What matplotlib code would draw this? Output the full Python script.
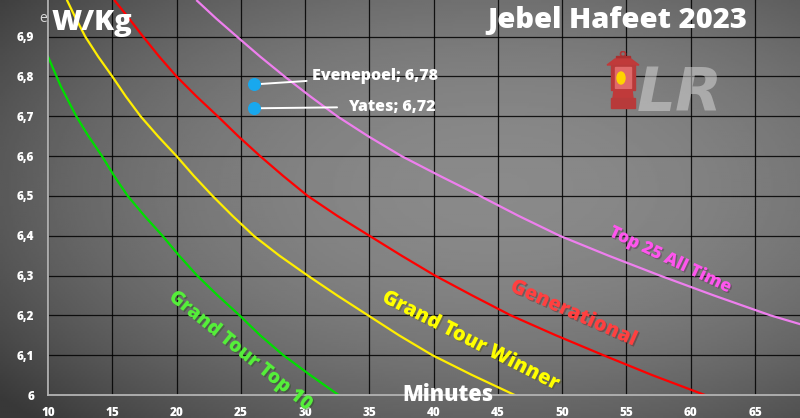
import numpy as np
import matplotlib
matplotlib.use("Agg")
import matplotlib.pyplot as plt
import matplotlib.patches as mpatches
import matplotlib.patheffects as pe
from matplotlib.ticker import FuncFormatter

# curves (minutes, W/kg)
green_x = [10, 11.0, 12.2, 13.15, 14.2, 15.15, 16.2, 17.5, 18.9, 20.2, 21.6, 23.2,
           24.9, 26.5, 28.3, 30.4, 32.6]
green_y = [6.85, 6.775, 6.7, 6.65, 6.6, 6.55, 6.5, 6.45, 6.4, 6.35, 6.3, 6.25,
           6.2, 6.15, 6.1, 6.05, 6.0]
yellow_x = [11.5, 12.1, 12.9, 13.9, 15.0, 16.05, 17.2, 18.55, 20.0, 21.35, 22.8,
            24.35, 26.0, 28.0, 30.2, 32.5, 34.9, 37.3, 39.9, 43.0, 46.3]
yellow_y = [6.99, 6.95, 6.9, 6.85, 6.8, 6.75, 6.7, 6.65, 6.6, 6.55, 6.5,
            6.45, 6.4, 6.35, 6.3, 6.25, 6.2, 6.15, 6.1, 6.05, 6.0]
red_x = [15.2, 16.2, 17.4, 18.65, 20.0, 21.55, 23.2, 24.8, 26.5, 28.3, 30.2,
         32.5, 35.0, 37.5, 40.1, 43.0, 46.0, 49.5, 53.2, 57.0, 61.1]
red_y = [6.99, 6.95, 6.9, 6.85, 6.8, 6.75, 6.7, 6.65, 6.6, 6.55, 6.5,
         6.45, 6.4, 6.35, 6.3, 6.25, 6.2, 6.15, 6.1, 6.05, 6.0]
pink_x = [21.6, 23.1, 24.7, 26.5, 28.4, 30.4, 32.5, 34.9, 37.5, 40.5, 43.6,
          46.6, 49.8, 53.6, 57.6, 61.8, 66.2, 68.5]
pink_y = [6.99, 6.945, 6.9, 6.85, 6.8, 6.75, 6.7, 6.65, 6.6, 6.55, 6.5,
          6.45, 6.4, 6.35, 6.3, 6.25, 6.2, 6.178]

riders = ["Evenepoel", "Yates"]
rider_min = [26, 26]
rider_wkg = [6.78, 6.72]

xticks = [10, 15, 20, 25, 30, 35, 40, 45, 50, 55, 60, 65]
yticks = [6.0, 6.1, 6.2, 6.3, 6.4, 6.5, 6.6, 6.7, 6.8, 6.9]

BOLD = dict(family="Open Sans", weight="heavy")

fig = plt.figure(figsize=(8, 4.18), dpi=100)

# concrete-ish background: plain vignette
bg = fig.add_axes([0, 0, 1, 1], zorder=-10)
yy, xx = np.mgrid[0:1:200j, 0:1:400j]
r2 = ((xx - 0.62) / 0.75) ** 2 + ((yy - 0.45) / 0.75) ** 2
val = np.clip(0.54 - 0.28 * r2, 0.22, 0.56)
bg.imshow(val, cmap="gray", vmin=0, vmax=1, aspect="auto", extent=[0, 1, 0, 1])
bg.axis("off")

ax = fig.add_axes([48 / 800, 23 / 418, 752 / 800, 395 / 418])
ax.patch.set_alpha(0)
ax.set_xlim(10, 68.5)
ax.set_ylim(6.0, 6.992)
ax.set_xticks(xticks)
ax.set_yticks(yticks)
ax.grid(True, color="black", lw=0.9, alpha=0.85)
ax.set_axisbelow(True)
for s in ["top", "right"]:
    ax.spines[s].set_visible(False)
for s in ["left", "bottom"]:
    ax.spines[s].set_color("#b4b4b4")
    ax.spines[s].set_linewidth(1.3)
ax.tick_params(length=0, colors="white", labelsize=8.5)
ax.tick_params(axis="y", pad=10)
ax.tick_params(axis="x", pad=9)
ax.yaxis.set_major_formatter(FuncFormatter(
    lambda v, p: "6" if abs(v - 6) < 1e-6 else ("%.1f" % v).replace(".", ",")))
for lab in ax.get_xticklabels() + ax.get_yticklabels():
    lab.set_fontweight("heavy")
    lab.set_family("Open Sans")

ax.plot(green_x, green_y, color="#00dd00", lw=1.6)
ax.plot(yellow_x, yellow_y, color="#ffee00", lw=1.6)
ax.plot(red_x, red_y, color="#ff0000", lw=1.6)
ax.plot(pink_x, pink_y, color="#ee7fee", lw=1.6)

shadow = [pe.withSimplePatchShadow(offset=(1, -1), alpha=0.35)]
ax.text(25.0, 6.11, "Grand Tour Top 10", color="#55ee3a", fontsize=14, rotation=-39,
        ha="center", va="center", path_effects=shadow, **BOLD)
ax.text(42.9, 6.135, "Grand Tour Winner", color="#ffff00", fontsize=14.5, rotation=-27,
        ha="center", va="center", path_effects=shadow, **BOLD)
ax.text(50.9, 6.204, "Generational", color="#ff4040", fontsize=14.5, rotation=-24,
        ha="center", va="center", path_effects=shadow, **BOLD)
ax.text(58.4, 6.339, "Top 25 All Time", color="#ff55ee", fontsize=12.5, rotation=-25.5,
        ha="center", va="center", path_effects=shadow, **BOLD)

ax.scatter(rider_min, rider_wkg, s=70, color="#18a8ee", zorder=5)
ax.annotate("%s; %s" % (riders[0], ("%.2f" % rider_wkg[0]).replace(".", ",")),
            xy=(rider_min[0], rider_wkg[0]), xytext=(30.55, 6.80),
            color="white", fontsize=11.5, ha="left", va="center",
            arrowprops=dict(arrowstyle="-", color="white", lw=1.4, shrinkA=2, shrinkB=0),
            **BOLD)
ax.annotate("%s; %s" % (riders[1], ("%.2f" % rider_wkg[1]).replace(".", ",")),
            xy=(rider_min[1], rider_wkg[1]), xytext=(33.35, 6.724),
            color="white", fontsize=11.5, ha="left", va="center",
            arrowprops=dict(arrowstyle="-", color="white", lw=1.4, shrinkA=6, shrinkB=0),
            **BOLD)

# titles
fig.text(52 / 800, 1 - 30 / 418, "W/Kg", color="white", fontsize=21, ha="left",
         va="baseline", **BOLD)
fig.text(39 / 800, 1 - 22 / 418, "e", color="#d8d8d8", fontsize=10, ha="left",
         va="baseline", family="Open Sans")
fig.text(617 / 800, 1 - 28 / 418, "Jebel Hafeet 2023", color="white", fontsize=21,
         ha="center", va="baseline", **BOLD)
fig.text(448 / 800, 1 - 401 / 418, "Minutes", color="white", fontsize=15.5,
         ha="center", va="baseline", **BOLD)

# logo: lantern + LR
lg = fig.add_axes([604 / 800, 1 - 113 / 418, 38 / 800, 62 / 418])
lg.set_xlim(0, 38)
lg.set_ylim(62, 0)
lg.axis("off")
lg.add_patch(mpatches.Circle((19, 3), 2.5, fill=False, ec="#b03535", lw=1.2))
lg.add_patch(mpatches.Rectangle((12, 5), 14, 3, color="#a83030"))
lg.add_patch(mpatches.Polygon([(3, 14), (35, 14), (27, 8), (11, 8)], color="#c03a3a"))
lg.add_patch(mpatches.Rectangle((7, 14), 24, 25, color="#b83a3a"))
lg.add_patch(mpatches.Rectangle((11, 16), 16, 21, color="#e06a6a"))
lg.add_patch(mpatches.Ellipse((17, 27), 8, 12, color="#ffd400"))
lg.add_patch(mpatches.Polygon([(10, 39), (28, 39), (29, 47), (9, 47)], color="#c03a3a"))
lg.add_patch(mpatches.Rectangle((7, 47), 24, 10, color="#b83a3a"))
fig.text(637 / 800, 1 - 111 / 418, "LR", color="#dcdcdc", alpha=0.5, fontsize=44,
         style="italic", weight="bold", family=["Liberation Sans Narrow", "DejaVu Sans"],
         ha="left", va="baseline")

fig.savefig("out.png", dpi=100)
